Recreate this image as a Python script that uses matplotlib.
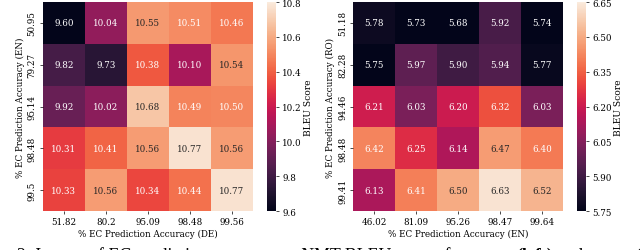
import numpy as np
import matplotlib
matplotlib.use("Agg")
import matplotlib.pyplot as plt
import seaborn as sns

plt.rcParams['font.family'] = ['DejaVu Serif']

# EN-DE (left)
de_rows = ['50.95', '79.27', '95.14', '98.48', '99.5']
de_cols = ['51.82', '80.2', '95.09', '98.48', '99.56']
de_bleu = [
    [9.60, 10.04, 10.55, 10.51, 10.46],
    [9.82, 9.73, 10.38, 10.10, 10.54],
    [9.92, 10.02, 10.68, 10.49, 10.50],
    [10.31, 10.41, 10.56, 10.77, 10.56],
    [10.33, 10.56, 10.34, 10.44, 10.77],
]

# RO-EN (right)
ro_rows = ['51.18', '82.28', '94.46', '98.48', '99.41']
ro_cols = ['46.02', '81.09', '95.26', '98.47', '99.64']
ro_bleu = [
    [5.78, 5.73, 5.68, 5.92, 5.74],
    [5.75, 5.97, 5.90, 5.94, 5.77],
    [6.21, 6.03, 6.20, 6.32, 6.03],
    [6.42, 6.25, 6.14, 6.47, 6.40],
    [6.13, 6.41, 6.50, 6.63, 6.52],
]

fig = plt.figure(figsize=(6.4, 2.51), dpi=100)

panels = [
    (de_bleu, de_rows, de_cols, 'EN', 'DE', 9.6, 10.8, np.arange(9.6, 10.81, 0.2), '%.1f', 0.067, 0.417),
    (ro_bleu, ro_rows, ro_cols, 'RO', 'EN', 5.75, 6.65, np.arange(5.75, 6.66, 0.15), '%.2f', 0.552, 0.902),
]

fs = 6.3
for data, rows, cols, ylang, xlang, vmin, vmax, ticks, fmt, ax_x, cb_x in panels:
    ax = fig.add_axes([ax_x, 0.155, 0.328, 0.833])
    cax = fig.add_axes([cb_x, 0.155, 0.014, 0.833])
    sns.heatmap(np.array(data), ax=ax, cbar_ax=cax, cmap='rocket', vmin=vmin, vmax=vmax,
                annot=True, fmt='.2f', annot_kws={'fontsize': fs},
                xticklabels=cols, yticklabels=rows,
                cbar_kws={'ticks': ticks, 'format': fmt})
    ax.tick_params(labelsize=fs, length=2.5, width=0.5, pad=2)
    ax.set_yticklabels(rows, rotation=90, va='center')
    ax.set_xlabel('%% EC Prediction Accuracy (%s)' % xlang, fontsize=fs, labelpad=1.5)
    ax.set_ylabel('%% EC Prediction Accuracy (%s)' % ylang, fontsize=fs, labelpad=2)
    cax.tick_params(labelsize=fs, length=2.5, width=0.5, pad=2)
    cax.set_ylabel('BLEU Score', fontsize=fs + 0.3, labelpad=1.5)

# caption of the paper, cut off at the bottom of the crop
pieces = [
    ('2: Impact of EC prediction accuracy on NMT BLEU scores for ', 12.8, 'normal'),
    ('EN-DE', 10, 'normal'),
    (' ', 12.8, 'normal'),
    ('(left)', 12.8, 'bold'),
    (' and ', 12.8, 'normal'),
    ('RO-EN', 10, 'normal'),
    (' ', 12.8, 'normal'),
    ('(right)', 12.8, 'bold'),
]
renderer = fig.canvas.get_renderer()
x = 0.027
for txt, size, weight in pieces:
    t = fig.text(x, -0.04, txt, fontsize=size, fontweight=weight,
                 family='Liberation Serif', va='baseline')
    w = t.get_window_extent(renderer=renderer).width
    x += w / fig.bbox.width

fig.savefig('out.png', dpi=100)
